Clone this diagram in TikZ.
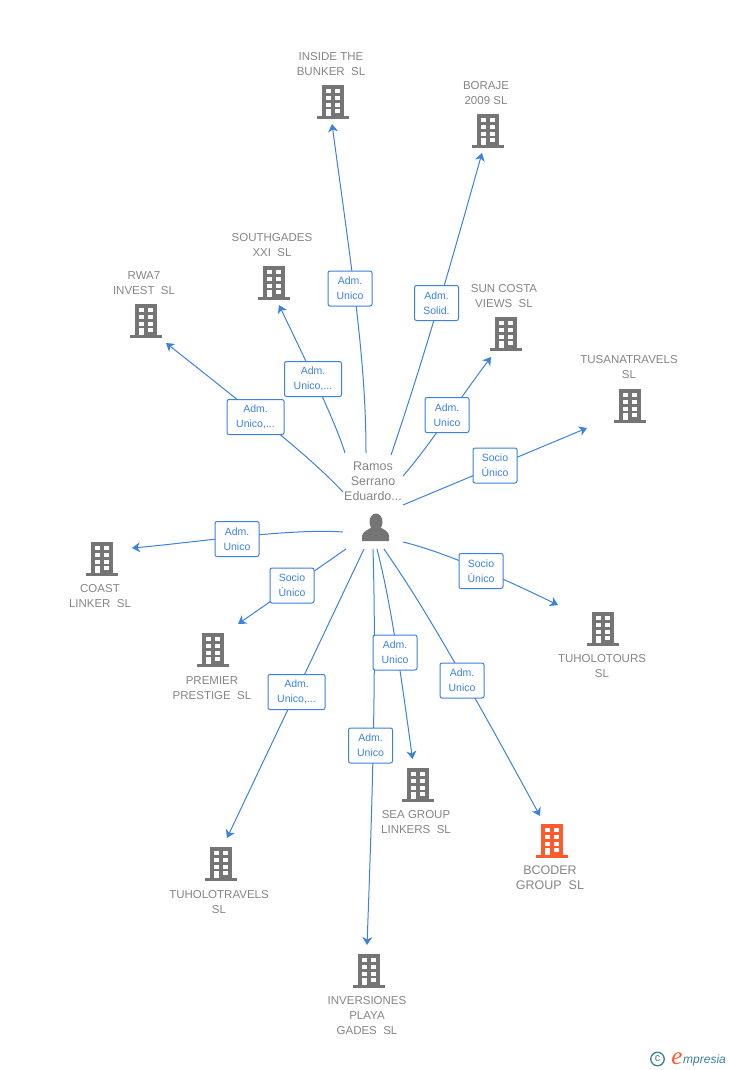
\documentclass[tikz,border=0pt]{standalone}
\usepackage{fontspec}
\setmainfont{Liberation Sans}
\newfontfamily\logoserif{Liberation Serif}
\usetikzlibrary{arrows.meta}
\definecolor{linkblue}{HTML}{3B82E0}
\definecolor{iconGray}{HTML}{757575}
\definecolor{textGray}{HTML}{858585}
\definecolor{iconOrange}{HTML}{FF5A2B}
\definecolor{logoTeal}{HTML}{3C7F96}
\tikzset{
  firm/.style={text=textGray, align=center, font=\fontsize{11.5}{15}\selectfont},
  role/.style={draw=linkblue, line width=1pt, rounded corners=2pt, fill=white, text=linkblue,
    align=center, font=\fontsize{10.5}{15}\selectfont, minimum width=44pt, minimum height=35pt, inner sep=0pt},
  rolewide/.style={role, minimum width=57pt},
  link/.style={draw=linkblue, line width=1pt, -{Stealth[length=8pt,width=10pt,inset=2.5pt]}},
  building/.pic={
    \fill[pic actions](-11, 0)rectangle(11, 32);
    \fill[pic actions](-16, 31)rectangle(16, 34);
    \fill[white](-7, 4)rectangle(-2, 8);
    \fill[white](2, 4)rectangle(7, 8);
    \fill[white](-7, 11)rectangle(-2, 15);
    \fill[white](2, 11)rectangle(7, 15);
    \fill[white](-7, 18)rectangle(-2, 22);
    \fill[white](2, 18)rectangle(7, 22);
    \fill[white](-7, 24)rectangle(-2, 31);
    \fill[white](2, 24)rectangle(7, 28);
  }
}
\begin{document}
\begin{tikzpicture}[x=1pt, y=-1pt]
  \useasboundingbox(0, 0)rectangle(728, 1070);
  % buildings
  \pic[iconGray] at (333, 85) {building};
  \pic[iconGray] at (488, 114) {building};
  \pic[iconGray] at (274, 266) {building};
  \pic[iconGray] at (146, 304) {building};
  \pic[iconGray] at (506, 317) {building};
  \pic[iconGray] at (630, 389) {building};
  \pic[iconGray] at (102, 542) {building};
  \pic[iconGray] at (213, 633) {building};
  \pic[iconGray] at (603, 612) {building};
  \pic[iconGray] at (221, 847) {building};
  \pic[iconGray] at (418, 768) {building};
  \pic[iconOrange] at (552, 824) {building};
  \pic[iconGray] at (369, 954) {building};
  % company names
  \node[firm] (insidename) at (331, 64) {INSIDE THE\\BUNKER\ \ SL};
  \node[firm] (borajename) at (486, 93) {BORAJE\\2009 SL};
  \node[firm] (southname) at (272, 245) {SOUTHGADES\\XXI\ \ SL};
  \node[firm] (rwaname) at (144, 283) {RWA7\\INVEST\ \ SL};
  \node[firm] (sunname) at (504, 296) {SUN COSTA\\VIEWS\ \ SL};
  \node[firm] (tusananame) at (629, 367) {TUSANATRAVELS\\SL};
  \node[firm] (coastname) at (100, 596) {COAST\\LINKER\ \ SL};
  \node[firm] (premiername) at (212, 688) {PREMIER\\PRESTIGE\ \ SL};
  \node[firm] (toursname) at (602, 666) {TUHOLOTOURS\\SL};
  \node[firm] (travelsname) at (219, 902) {TUHOLOTRAVELS\\SL};
  \node[firm] (seaname) at (416, 822) {SEA GROUP\\LINKERS\ \ SL};
  \node[firm, font=\fontsize{12.5}{15}\selectfont] (bcodername) at (550, 878) {BCODER\\GROUP\ \ SL};
  \node[firm] (inversname) at (367, 1016) {INVERSIONES\\PLAYA\\GADES\ \ SL};
  % person
  \node[firm, font=\fontsize{12.5}{15}\selectfont] (ramos) at (373, 481) {Ramos\\Serrano\\Eduardo...};
  \fill[iconGray](376, 522)ellipse(6.5 and 8.5);
  \fill[iconGray](362, 541)--(362, 536)..controls(363, 531)and(368, 530)..(372, 527)--(380, 527)..controls(384, 530)and(389, 531)..(389, 536)--(389, 541)--cycle;
  % free ends of the links
  \coordinate (insidefrom) at (366, 453);
  \coordinate (insideto) at (332, 124);
  \coordinate (borajefrom) at (391, 455);
  \coordinate (borajeto) at (482, 153);
  \coordinate (southfrom) at (345, 453);
  \coordinate (southto) at (279, 305);
  \coordinate (rwafrom) at (343, 492);
  \coordinate (rwato) at (166, 343);
  \coordinate (sunfrom) at (403, 476);
  \coordinate (sunto) at (491, 357);
  \coordinate (tusanafrom) at (403, 505);
  \coordinate (tusanato) at (587, 428);
  \coordinate (coastfrom) at (343, 532);
  \coordinate (coastto) at (132, 548);
  \coordinate (premierfrom) at (346, 549);
  \coordinate (premierto) at (238, 624);
  \coordinate (travelsfrom) at (364, 549);
  \coordinate (travelsto) at (227, 838);
  \coordinate (inversfrom) at (373, 549);
  \coordinate (inversto) at (367, 945);
  \coordinate (seafrom) at (377, 549);
  \coordinate (seato) at (412.5, 759);
  \coordinate (bcoderfrom) at (384, 549);
  \coordinate (bcoderto) at (540, 816);
  \coordinate (toursfrom) at (403, 542);
  \coordinate (toursto) at (558, 605);
  % links, the role boxes go over them
  \draw[link](insidefrom)..controls(366, 360)and(352, 272)..(insideto);
  \draw[link](borajefrom)..controls(420, 370)and(445, 285)..(borajeto);
  \draw[link](southfrom)..controls(335, 420)and(300.5, 350)..(southto);
  \draw[link](rwafrom)..controls(315, 462)and(270, 425)..(rwato);
  \draw[link](sunfrom)..controls(430, 445)and(455, 405)..(sunto);
  \draw[link](tusanafrom)--(tusanato);
  \draw[link](coastfrom)..controls(290, 528)and(190, 543)..(coastto);
  \draw[link](premierfrom)--(premierto);
  \draw[link](travelsfrom)--(travelsto);
  \draw[link](inversfrom)..controls(376, 650)and(374, 760)..(inversto);
  \draw[link](seafrom)..controls(390, 600)and(399, 660)..(seato);
  \draw[link](bcoderfrom)..controls(405, 580)and(433.7, 620)..(bcoderto);
  \draw[link](toursfrom)..controls(440, 551)and(490, 572)..(toursto);
  % role boxes
  \node[role] (insiderole) at (350, 288.5) {Adm.\\Unico};
  \node[role] (borajerole) at (436.5, 303) {Adm.\\Solid.};
  \node[rolewide] (southrole) at (313, 379) {Adm.\\Unico,...};
  \node[rolewide] (rwarole) at (255.5, 417) {Adm.\\Unico,...};
  \node[role] (sunrole) at (447, 415) {Adm.\\Unico};
  \node[role] (tusanarole) at (495, 465.5) {Socio\\Único};
  \node[role] (coastrole) at (237, 539) {Adm.\\Unico};
  \node[role] (premierrole) at (292, 585.5) {Socio\\Único};
  \node[rolewide] (travelsrole) at (296.5, 692) {Adm.\\Unico,...};
  \node[role] (inversrole) at (370.5, 745.5) {Adm.\\Unico};
  \node[role] (searole) at (395, 652.5) {Adm.\\Unico};
  \node[role] (bcoderrole) at (462, 680.5) {Adm.\\Unico};
  \node[role] (toursrole) at (481, 571) {Socio\\Único};
  % logo
  \node[draw=logoTeal, line width=1.3pt, circle, inner sep=0pt, minimum size=13.5pt, text=logoTeal, font=\fontsize{11}{11}\selectfont] (copyright) at (657.5, 1059) {c};
  \node[text=iconOrange, font=\logoserif\fontsize{25}{25}\selectfont\itshape, inner sep=0pt] (logoe) at (677, 1059) {e};
  \node[text=logoTeal, font=\fontsize{12}{12}\selectfont\itshape, inner sep=0pt, anchor=west] (logotext) at (683, 1060) {mpresia};
\end{tikzpicture}
\end{document}
